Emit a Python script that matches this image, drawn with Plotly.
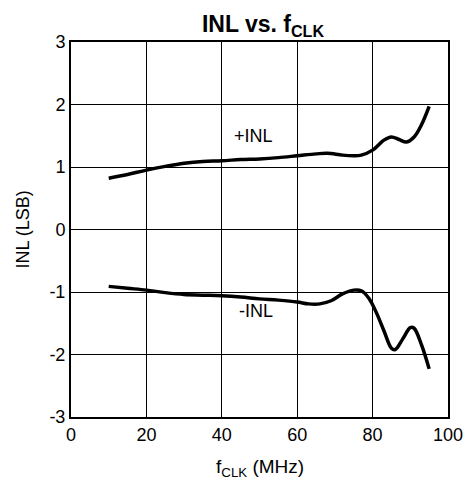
import plotly.graph_objects as go

f_clk_pos = [10, 15, 20, 25, 30, 35, 40, 45, 50, 55, 60, 65, 68, 72, 75, 77, 80, 83, 85, 87, 89, 91, 93, 95]
inl_pos = [0.82, 0.88, 0.95, 1.01, 1.06, 1.09, 1.10, 1.12, 1.13, 1.15, 1.18, 1.21, 1.22, 1.19, 1.18, 1.19, 1.27, 1.43, 1.48, 1.44, 1.40, 1.48, 1.68, 1.97]

f_clk_neg = [10, 15, 20, 25, 30, 35, 40, 45, 50, 55, 60, 63, 66, 69, 72, 75, 77, 79, 81, 83, 85, 86, 88, 90, 91, 93, 95]
inl_neg = [-0.91, -0.94, -0.97, -1.01, -1.04, -1.05, -1.06, -1.08, -1.11, -1.13, -1.16, -1.19, -1.19, -1.14, -1.03, -0.97, -0.98, -1.10, -1.33, -1.62, -1.90, -1.92, -1.75, -1.57, -1.58, -1.85, -2.23]

x_ticks = [0, 20, 40, 60, 80, 100]
x_labels = ["0", "20", "40", "60", "80", "100"]
y_ticks = [-3, -2, -1, 0, 1, 2, 3]
y_labels = ["-3", "-2", "-1", "0", "1", "2", "3"]

FONT = "Liberation Sans, Arial, sans-serif"

fig = go.Figure()
fig.add_trace(go.Scatter(x=f_clk_pos, y=inl_pos, mode="lines",
                         line=dict(color="black", width=3.5, shape="spline", smoothing=1.0),
                         showlegend=False, hoverinfo="skip"))
fig.add_trace(go.Scatter(x=f_clk_neg, y=inl_neg, mode="lines",
                         line=dict(color="black", width=3.5, shape="spline", smoothing=1.0),
                         showlegend=False, hoverinfo="skip"))

fig.add_annotation(x=48.5, y=1.5, text="+INL", showarrow=False,
                   font=dict(family=FONT, size=18, color="black"))
fig.add_annotation(x=49.2, y=-1.31, text="-INL", showarrow=False,
                   font=dict(family=FONT, size=18, color="black"))

# axis titles
fig.add_annotation(xref="paper", yref="paper", x=0, y=0.5, xshift=-49,
                   text="INL (LSB)", textangle=-90, showarrow=False,
                   xanchor="center", yanchor="middle",
                   font=dict(family=FONT, size=18, color="black"))
fig.add_annotation(xref="paper", yref="paper", x=0.5, y=0, yshift=-51,
                   text="f<sub>CLK</sub> (MHz)", showarrow=False,
                   xanchor="center", yanchor="middle",
                   font=dict(family=FONT, size=19, color="black"))

fig.update_layout(
    width=472, height=487,
    margin=dict(l=71, r=24, t=42, b=70, autoexpand=False),
    paper_bgcolor="white", plot_bgcolor="white",
    font=dict(family=FONT, size=18, color="black"),
    title=dict(text="<b>INL vs. f<sub>CLK</sub></b>", x=263 / 472, xanchor="center",
               xref="container", yref="container",
               y=1 - 24 / 487, yanchor="middle", font=dict(family=FONT, size=23, color="black")),
    xaxis=dict(range=[0, 100], tickvals=x_ticks, ticktext=x_labels,
               showgrid=True, gridcolor="black", gridwidth=1,
               showline=True, linecolor="black", linewidth=2, mirror=True, zeroline=False,
               ticks="", tickfont=dict(size=18), automargin=False),
    yaxis=dict(range=[-3, 3], tickvals=y_ticks, ticktext=y_labels,
               showgrid=True, gridcolor="black", gridwidth=1,
               showline=True, linecolor="black", linewidth=2, mirror=True, zeroline=False,
               ticks="", tickfont=dict(size=18), automargin=False),
)

fig.write_html("out.html", config={"displayModeBar": False},
               post_script="document.body.style.margin='0';document.body.style.overflow='hidden';")
